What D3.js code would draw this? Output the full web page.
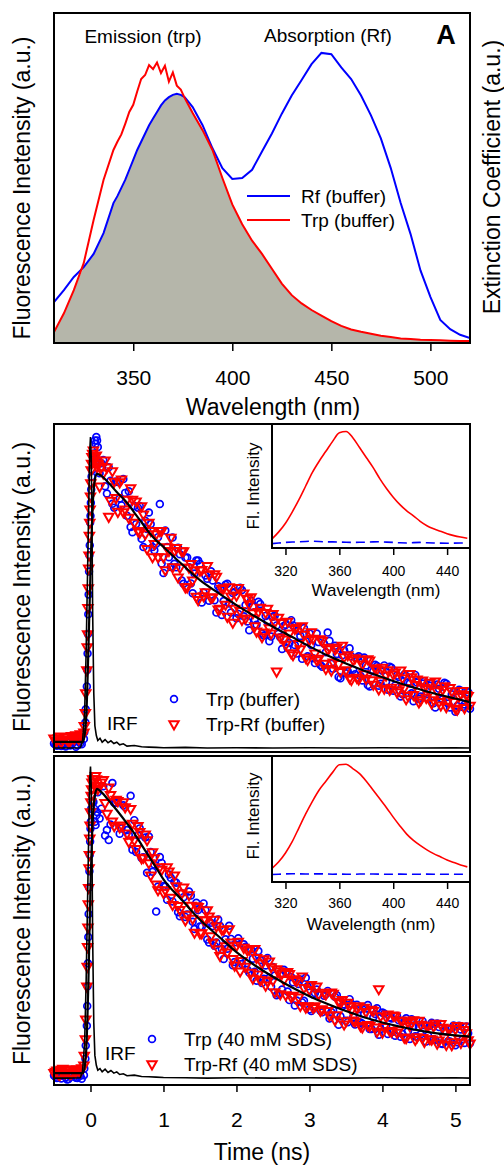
<!DOCTYPE html>
<html>
<head>
<meta charset="utf-8">
<script src="https://cdn.jsdelivr.net/npm/d3@7"></script>
<style>
  body { margin: 0; background: #fff; }
  svg { display: block; font-family: "Liberation Sans", Arial, sans-serif; }
</style>
</head>
<body>
<svg id="fig" width="504" height="1165"></svg>
<script>
// ── Data: panel A (steady-state spectra) ─────────────────────────────────────
const wlA = [
  310, 315, 320, 325, 330, 335, 340,
  342, 344, 346, 348, 350, 352, 354, 356, 358, 360, 362, 364, 366, 368, 370, 372, 374, 376, 378, 380,
  385, 390, 395, 400, 405, 410, 415, 420, 425, 430, 435, 440, 445, 450, 455, 460, 465, 470,
  475, 480, 485, 490, 495, 500, 505, 510, 515, 520
];
const rfAbs = [
  0.124, 0.160, 0.200, 0.230, 0.270, 0.333, 0.424,
  0.445, 0.470, 0.495, 0.525, 0.555, 0.585, 0.610, 0.635, 0.660, 0.680, 0.700, 0.720, 0.735, 0.745, 0.752, 0.755, 0.752, 0.745, 0.730, 0.715,
  0.660, 0.590, 0.530, 0.497, 0.500, 0.525, 0.580, 0.635, 0.695, 0.750, 0.797, 0.845, 0.879, 0.875, 0.835, 0.800, 0.750, 0.690,
  0.620, 0.530, 0.424, 0.330, 0.220, 0.140, 0.070, 0.042, 0.025, 0.015
];
const trpEm = [
  0.033, 0.090, 0.160, 0.242, 0.373, 0.494, 0.585,
  0.610, 0.632, 0.665, 0.700, 0.722, 0.762, 0.800, 0.812, 0.842, 0.830, 0.850, 0.818, 0.840, 0.792, 0.820, 0.780, 0.768, 0.742, 0.720, 0.697,
  0.645, 0.585, 0.500, 0.420, 0.360, 0.310, 0.270, 0.225, 0.180, 0.145, 0.120, 0.100, 0.083, 0.066, 0.052, 0.041, 0.034, 0.028,
  0.022, 0.018, 0.014, 0.012, 0.010, 0.009, 0.008, 0.007, 0.006, 0.006
];
const tickA = [350, 400, 450, 500];

// ── Data: insets (emission spectra) ──────────────────────────────────────────
const wlIn = [310, 315, 320, 325, 330, 335, 340, 345, 350, 355, 360, 365, 370, 375, 380,
              385, 390, 395, 400, 405, 410, 415, 420, 425, 430, 435, 440, 445, 450, 455];
const inB_trp = [0.073, 0.130, 0.200, 0.290, 0.390, 0.500, 0.610, 0.700, 0.780, 0.860, 0.930, 0.940, 0.890, 0.810, 0.730,
                 0.650, 0.560, 0.480, 0.410, 0.350, 0.300, 0.260, 0.215, 0.180, 0.155, 0.135, 0.115, 0.100, 0.088, 0.078];
const inB_rf  = [0.035, 0.040, 0.045, 0.048, 0.050, 0.053, 0.055, 0.052, 0.050, 0.049, 0.048, 0.046, 0.045, 0.046, 0.047,
                 0.049, 0.050, 0.047, 0.045, 0.042, 0.040, 0.043, 0.045, 0.042, 0.040, 0.039, 0.038, 0.039, 0.040, 0.040];
const inC_trp = [0.108, 0.160, 0.230, 0.320, 0.430, 0.540, 0.640, 0.730, 0.800, 0.870, 0.930, 0.935, 0.900, 0.860, 0.800,
                 0.730, 0.660, 0.590, 0.515, 0.445, 0.380, 0.330, 0.290, 0.255, 0.225, 0.200, 0.175, 0.155, 0.135, 0.120];
const inC_rf  = [0.060, 0.062, 0.064, 0.066, 0.065, 0.063, 0.064, 0.066, 0.064, 0.062, 0.063, 0.062, 0.061, 0.063, 0.064,
                 0.063, 0.062, 0.061, 0.062, 0.063, 0.062, 0.061, 0.062, 0.063, 0.062, 0.061, 0.062, 0.062, 0.061, 0.062];
const tickIn = [320, 360, 400, 440];

// ── Data: decays (panels B, C), two interleaved channel sets ─────────────────
const tData = [
  -0.48, -0.44, -0.40, -0.36, -0.32, -0.28, -0.24, -0.20, -0.16, -0.12,
  -0.09, -0.07, -0.05, -0.04, -0.03, -0.02, -0.01, 0.00, 0.01, 0.02, 0.04, 0.06, 0.08, 0.10,
  0.15, 0.20, 0.25, 0.30, 0.35, 0.40, 0.45, 0.50, 0.55, 0.60,
  0.65, 0.70, 0.75, 0.80, 0.85, 0.90, 0.95, 1.00, 1.05, 1.10,
  1.15, 1.20, 1.25, 1.30, 1.35, 1.40, 1.45, 1.50, 1.55, 1.60,
  1.65, 1.70, 1.75, 1.80, 1.85, 1.90, 1.95, 2.00, 2.05, 2.10,
  2.15, 2.20, 2.25, 2.30, 2.35, 2.40, 2.45, 2.50, 2.55, 2.60,
  2.65, 2.70, 2.75, 2.80, 2.85, 2.90, 2.95, 3.00, 3.05, 3.10,
  3.15, 3.20, 3.25, 3.30, 3.35, 3.40, 3.45, 3.50, 3.55, 3.60,
  3.65, 3.70, 3.75, 3.80, 3.85, 3.90, 3.95, 4.00, 4.05, 4.10,
  4.15, 4.20, 4.25, 4.30, 4.35, 4.40, 4.45, 4.50, 4.55, 4.60,
  4.65, 4.70, 4.75, 4.80, 4.85, 4.90, 4.95, 5.00, 5.05, 5.10,
  5.15, 5.20
];
const tData2 = [
  -0.50, -0.46, -0.42, -0.38, -0.34, -0.30, -0.26, -0.22, -0.18, -0.14,
  -0.085, -0.065, -0.045, -0.035, -0.025, -0.015, -0.005, 0.005, 0.015, 0.03, 0.05, 0.07, 0.09,
  0.125, 0.175, 0.225, 0.275, 0.325, 0.375, 0.425, 0.475, 0.525, 0.575,
  0.625, 0.675, 0.725, 0.775, 0.825, 0.875, 0.925, 0.975, 1.025, 1.075,
  1.125, 1.175, 1.225, 1.275, 1.325, 1.375, 1.425, 1.475, 1.525, 1.575,
  1.625, 1.675, 1.725, 1.775, 1.825, 1.875, 1.925, 1.975, 2.025, 2.075,
  2.125, 2.175, 2.225, 2.275, 2.325, 2.375, 2.425, 2.475, 2.525, 2.575,
  2.625, 2.675, 2.725, 2.775, 2.825, 2.875, 2.925, 2.975, 3.025, 3.075,
  3.125, 3.175, 3.225, 3.275, 3.325, 3.375, 3.425, 3.475, 3.525, 3.575,
  3.625, 3.675, 3.725, 3.775, 3.825, 3.875, 3.925, 3.975, 4.025, 4.075,
  4.125, 4.175, 4.225, 4.275, 4.325, 4.375, 4.425, 4.475, 4.525, 4.575,
  4.625, 4.675, 4.725, 4.775, 4.825, 4.875, 4.925, 4.975, 5.025, 5.075,
  5.125, 5.175
];

// panel B, Trp (buffer)
const trpBuf = [
  0.022, 0.030, 0.018, 0.026, 0.034, 0.020, 0.028, 0.016, 0.032, 0.024,
  0.040, 0.090, 0.200, 0.300, 0.420, 0.550, 0.630, 0.720, 0.800, 0.860, 0.900, 0.950, 0.960, 0.930,
  0.880, 0.810, 0.868, 0.757, 0.825, 0.773, 0.832, 0.720, 0.686, 0.750,
  0.745, 0.650, 0.705, 0.730, 0.625, 0.635, 0.756, 0.546, 0.625, 0.564,
  0.574, 0.623, 0.523, 0.593, 0.563, 0.484, 0.584, 0.574, 0.486, 0.528,
  0.551, 0.463, 0.505, 0.418, 0.510, 0.453, 0.485, 0.408, 0.501, 0.414,
  0.398, 0.461, 0.404, 0.458, 0.361, 0.415, 0.338, 0.412, 0.386, 0.350,
  0.384, 0.318, 0.402, 0.326, 0.370, 0.284, 0.338, 0.362, 0.286, 0.361,
  0.265, 0.330, 0.364, 0.269, 0.324, 0.229, 0.295, 0.240, 0.316, 0.251,
  0.287, 0.232, 0.288, 0.204, 0.250, 0.266, 0.202, 0.248, 0.214, 0.260,
  0.187, 0.233, 0.169, 0.236, 0.212, 0.179, 0.235, 0.162, 0.209, 0.176,
  0.202, 0.149, 0.206, 0.163, 0.211, 0.148, 0.176, 0.123, 0.190, 0.137,
  0.175, 0.132
];
const trpBuf2 = [
  0.026, 0.019, 0.031, 0.024, 0.017, 0.029, 0.023, 0.033, 0.021, 0.027,
  0.060, 0.130, 0.250, 0.360, 0.480, 0.600, 0.700, 0.760, 0.840, 0.880, 0.910, 0.940, 0.950,
  0.850, 0.890, 0.788, 0.827, 0.745, 0.823, 0.752, 0.790, 0.795, 0.670,
  0.695, 0.750, 0.625, 0.680, 0.695, 0.615, 0.655, 0.575, 0.675, 0.594,
  0.654, 0.563, 0.603, 0.513, 0.593, 0.514, 0.544, 0.584, 0.456, 0.538,
  0.461, 0.523, 0.425, 0.498, 0.460, 0.513, 0.425, 0.488, 0.421, 0.494,
  0.448, 0.371, 0.444, 0.388, 0.451, 0.355, 0.398, 0.352, 0.416, 0.360,
  0.314, 0.388, 0.332, 0.386, 0.300, 0.354, 0.378, 0.292, 0.326, 0.271,
  0.335, 0.260, 0.304, 0.339, 0.254, 0.299, 0.225, 0.310, 0.246, 0.291,
  0.237, 0.292, 0.218, 0.264, 0.200, 0.246, 0.262, 0.208, 0.264, 0.190,
  0.257, 0.203, 0.229, 0.176, 0.232, 0.209, 0.155, 0.212, 0.169, 0.216,
  0.162, 0.209, 0.136, 0.193, 0.161, 0.208, 0.136, 0.183, 0.140, 0.187,
  0.145, 0.182
];
// panel B, Trp-Rf (buffer)
const trpRfBuf = [
  0.036, 0.043, 0.030, 0.047, 0.038, 0.034, 0.044, 0.052, 0.040, 0.048,
  0.060, 0.120, 0.250, 0.360, 0.500, 0.600, 0.700, 0.780, 0.860, 0.900, 0.920, 0.890, 0.905, 0.880,
  0.870, 0.890, 0.718, 0.857, 0.775, 0.823, 0.732, 0.770, 0.805, 0.700,
  0.675, 0.750, 0.665, 0.700, 0.595, 0.665, 0.675, 0.595, 0.625, 0.654,
  0.614, 0.533, 0.613, 0.503, 0.563, 0.524, 0.474, 0.554, 0.476, 0.568,
  0.471, 0.543, 0.435, 0.498, 0.450, 0.503, 0.395, 0.478, 0.431, 0.484,
  0.468, 0.473, 0.384, 0.428, 0.351, 0.425, 0.378, 0.422, 0.246, 0.350,
  0.344, 0.398, 0.302, 0.376, 0.330, 0.384, 0.288, 0.342, 0.346, 0.281,
  0.345, 0.270, 0.314, 0.249, 0.314, 0.269, 0.325, 0.250, 0.226, 0.281,
  0.227, 0.282, 0.238, 0.284, 0.220, 0.256, 0.192, 0.258, 0.234, 0.190,
  0.237, 0.183, 0.249, 0.196, 0.172, 0.229, 0.205, 0.152, 0.219, 0.166,
  0.212, 0.159, 0.186, 0.143, 0.201, 0.158, 0.186, 0.133, 0.170, 0.187,
  0.175, 0.142
];
const trpRfBuf2 = [
  0.042, 0.035, 0.048, 0.039, 0.045, 0.033, 0.050, 0.041, 0.046, 0.055,
  0.080, 0.180, 0.320, 0.440, 0.560, 0.660, 0.740, 0.820, 0.880, 0.910, 0.900, 0.880, 0.870,
  0.810, 0.850, 0.868, 0.767, 0.825, 0.733, 0.832, 0.740, 0.715, 0.770,
  0.765, 0.670, 0.725, 0.620, 0.675, 0.635, 0.595, 0.675, 0.555, 0.614,
  0.564, 0.623, 0.563, 0.613, 0.503, 0.574, 0.554, 0.464, 0.556, 0.488,
  0.541, 0.473, 0.535, 0.438, 0.500, 0.413, 0.475, 0.438, 0.501, 0.404,
  0.408, 0.451, 0.424, 0.368, 0.441, 0.365, 0.438, 0.362, 0.396, 0.410,
  0.394, 0.328, 0.362, 0.296, 0.380, 0.314, 0.358, 0.282, 0.366, 0.301,
  0.285, 0.340, 0.254, 0.319, 0.274, 0.319, 0.245, 0.290, 0.296, 0.221,
  0.287, 0.222, 0.268, 0.224, 0.280, 0.206, 0.252, 0.218, 0.194, 0.250,
  0.197, 0.243, 0.189, 0.226, 0.162, 0.239, 0.175, 0.222, 0.159, 0.196,
  0.192, 0.149, 0.216, 0.153, 0.191, 0.138, 0.196, 0.153, 0.130, 0.177,
  0.135, 0.172
];
// panel C, Trp (40 mM SDS)
const trpSds = [
  0.025, 0.032, 0.020, 0.028, 0.017, 0.026, 0.031, 0.022, 0.029, 0.019,
  0.030, 0.080, 0.180, 0.300, 0.450, 0.600, 0.700, 0.780, 0.840, 0.880, 0.860, 0.800, 0.820, 0.890,
  0.840, 0.758, 0.745, 0.918, 0.858, 0.764, 0.850, 0.775, 0.879, 0.805,
  0.758, 0.690, 0.752, 0.755, 0.648, 0.527, 0.693, 0.605, 0.563, 0.630,
  0.618, 0.525, 0.583, 0.511, 0.588, 0.496, 0.554, 0.482, 0.552, 0.442,
  0.493, 0.423, 0.503, 0.413, 0.443, 0.484, 0.364, 0.434, 0.376, 0.428,
  0.350, 0.412, 0.344, 0.407, 0.310, 0.363, 0.326, 0.359, 0.273, 0.337,
  0.350, 0.284, 0.328, 0.242, 0.307, 0.251, 0.326, 0.230, 0.275, 0.290,
  0.226, 0.271, 0.286, 0.222, 0.268, 0.183, 0.239, 0.195, 0.261, 0.207,
  0.244, 0.190, 0.216, 0.243, 0.170, 0.216, 0.153, 0.220, 0.177, 0.205,
  0.162, 0.210, 0.147, 0.195, 0.163, 0.200, 0.148, 0.176, 0.194, 0.132,
  0.180, 0.139, 0.187, 0.126, 0.165, 0.133, 0.172, 0.121, 0.180, 0.139,
  0.178, 0.127
];
const trpSds2 = [
  0.029, 0.021, 0.027, 0.033, 0.023, 0.018, 0.030, 0.025, 0.021, 0.028,
  0.050, 0.120, 0.240, 0.370, 0.520, 0.650, 0.740, 0.800, 0.830, 0.860, 0.840, 0.790, 0.830,
  0.810, 0.908, 0.775, 0.792, 0.858, 0.864, 0.780, 0.845, 0.760, 0.715,
  0.708, 0.780, 0.692, 0.645, 0.708, 0.670, 0.603, 0.675, 0.603, 0.640,
  0.558, 0.615, 0.513, 0.571, 0.518, 0.576, 0.474, 0.532, 0.482, 0.532,
  0.433, 0.483, 0.433, 0.483, 0.383, 0.414, 0.444, 0.374, 0.446, 0.368,
  0.420, 0.342, 0.384, 0.317, 0.380, 0.323, 0.386, 0.299, 0.333, 0.277,
  0.290, 0.344, 0.258, 0.312, 0.257, 0.321, 0.256, 0.300, 0.225, 0.280,
  0.276, 0.221, 0.276, 0.202, 0.228, 0.273, 0.209, 0.245, 0.191, 0.247,
  0.184, 0.230, 0.186, 0.233, 0.170, 0.206, 0.233, 0.170, 0.217, 0.155,
  0.202, 0.150, 0.197, 0.155, 0.203, 0.140, 0.178, 0.146, 0.154, 0.182,
  0.150, 0.189, 0.137, 0.176, 0.125, 0.163, 0.132, 0.181, 0.130, 0.169,
  0.128, 0.157
];
// panel C, Trp-Rf (40 mM SDS)
const trpRfSds = [
  0.041, 0.034, 0.047, 0.037, 0.044, 0.035, 0.049, 0.040, 0.045, 0.052,
  0.060, 0.140, 0.300, 0.420, 0.550, 0.660, 0.750, 0.830, 0.880, 0.920, 0.930, 0.910, 0.930, 0.900,
  0.920, 0.858, 0.905, 0.802, 0.868, 0.784, 0.860, 0.765, 0.840, 0.745,
  0.788, 0.690, 0.762, 0.675, 0.708, 0.610, 0.663, 0.585, 0.663, 0.570,
  0.638, 0.545, 0.583, 0.501, 0.578, 0.506, 0.544, 0.462, 0.502, 0.532,
  0.453, 0.503, 0.413, 0.473, 0.423, 0.474, 0.384, 0.424, 0.346, 0.418,
  0.410, 0.342, 0.414, 0.337, 0.370, 0.303, 0.376, 0.319, 0.353, 0.277,
  0.320, 0.344, 0.268, 0.322, 0.267, 0.331, 0.236, 0.290, 0.235, 0.300,
  0.226, 0.281, 0.226, 0.282, 0.198, 0.253, 0.259, 0.195, 0.241, 0.197,
  0.234, 0.180, 0.236, 0.183, 0.230, 0.176, 0.292, 0.160, 0.207, 0.165,
  0.212, 0.160, 0.197, 0.145, 0.193, 0.190, 0.138, 0.196, 0.144, 0.182,
  0.140, 0.179, 0.127, 0.186, 0.145, 0.173, 0.122, 0.171, 0.140, 0.179,
  0.158, 0.127
];
const trpRfSds2 = [
  0.037, 0.045, 0.032, 0.050, 0.039, 0.046, 0.036, 0.043, 0.048, 0.041,
  0.090, 0.200, 0.360, 0.480, 0.600, 0.700, 0.790, 0.860, 0.900, 0.930, 0.920, 0.940, 0.910,
  0.910, 0.928, 0.825, 0.882, 0.788, 0.864, 0.790, 0.845, 0.740, 0.795,
  0.718, 0.770, 0.692, 0.745, 0.638, 0.690, 0.593, 0.655, 0.593, 0.650,
  0.548, 0.605, 0.533, 0.601, 0.518, 0.546, 0.464, 0.542, 0.462, 0.502,
  0.513, 0.433, 0.483, 0.393, 0.473, 0.404, 0.434, 0.364, 0.436, 0.378,
  0.360, 0.412, 0.324, 0.387, 0.320, 0.383, 0.316, 0.359, 0.283, 0.347,
  0.340, 0.274, 0.338, 0.272, 0.317, 0.241, 0.296, 0.240, 0.305, 0.240,
  0.276, 0.231, 0.276, 0.212, 0.278, 0.213, 0.249, 0.185, 0.251, 0.227,
  0.194, 0.240, 0.176, 0.223, 0.180, 0.226, 0.163, 0.210, 0.177, 0.215,
  0.162, 0.210, 0.167, 0.195, 0.143, 0.180, 0.198, 0.146, 0.184, 0.132,
  0.180, 0.139, 0.187, 0.136, 0.175, 0.123, 0.172, 0.131, 0.180, 0.129,
  0.168, 0.137
];

const fitT = [-0.5, -0.1, -0.06, -0.03, 0, 0.03, 0.06, 0.09, 0.15, 0.25, 0.35, 0.5, 0.6, 0.7, 0.8, 0.9, 1.0,
              1.25, 1.5, 1.75, 2.0, 2.25, 2.5, 2.75, 3.0, 3.25, 3.5, 3.75, 4.0, 4.25, 4.5, 4.75, 5.0, 5.2];
const fitBuf = [0.031, 0.031, 0.10, 0.30, 0.55, 0.75, 0.83, 0.848, 0.842, 0.82, 0.795, 0.76, 0.73, 0.70, 0.67, 0.645, 0.625,
                0.573, 0.524, 0.485, 0.448, 0.414, 0.382, 0.352, 0.322, 0.294, 0.27, 0.248, 0.228, 0.209, 0.192, 0.176, 0.163, 0.152];
const fitSds = [0.036, 0.036, 0.10, 0.30, 0.60, 0.80, 0.88, 0.90, 0.89, 0.865, 0.838, 0.795, 0.765, 0.73, 0.695, 0.66, 0.625,
                0.563, 0.502, 0.453, 0.404, 0.364, 0.329, 0.298, 0.27, 0.246, 0.225, 0.206, 0.19, 0.177, 0.166, 0.157, 0.151, 0.147];
const irfT = [-0.5, -0.3, -0.14, -0.11, -0.08, -0.06, -0.04, -0.02, -0.01, 0, 0.01, 0.02, 0.03, 0.045, 0.06, 0.08, 0.1,
              0.13, 0.16, 0.2, 0.24, 0.28, 0.32, 0.36, 0.4, 0.45, 0.5, 0.6, 0.7, 0.8, 0.9, 1.0, 1.3, 1.6, 2.0, 2.5,
              3.0, 3.5, 4.0, 4.5, 5.0, 5.2];
const irfBuf = [0.012, 0.012, 0.013, 0.03, 0.12, 0.30, 0.55, 0.80, 0.92, 0.96, 0.90, 0.70, 0.42, 0.18, 0.08, 0.05, 0.035,
                0.042, 0.03, 0.038, 0.028, 0.034, 0.026, 0.03, 0.022, 0.025, 0.018, 0.02, 0.016, 0.015, 0.014, 0.013,
                0.014, 0.012, 0.013, 0.012, 0.013, 0.012, 0.013, 0.012, 0.013, 0.012];
const irfSds = [0.021, 0.021, 0.022, 0.04, 0.13, 0.31, 0.56, 0.82, 0.93, 0.968, 0.91, 0.72, 0.44, 0.19, 0.09, 0.06, 0.045,
                0.05, 0.04, 0.048, 0.038, 0.044, 0.036, 0.04, 0.032, 0.034, 0.028, 0.03, 0.026, 0.025, 0.024, 0.023,
                0.022, 0.021, 0.022, 0.021, 0.022, 0.021, 0.022, 0.021, 0.022, 0.021];
const tickT = [0, 1, 2, 3, 4, 5];

// ── Setup ────────────────────────────────────────────────────────────────────
const BLUE = '#0000ff', RED = '#ff0000', GREY = '#b5b6aa';
const FONT = '"Liberation Sans", Arial, sans-serif';
const svg = d3.select('#fig');
const X0 = 54, X1 = 470;

const zip = (xs, ys) => xs.map((x, i) => [x, ys[i]]);

function text(str, x, y, size, opts = {}) {
  return svg.append('text')
    .attr('x', x).attr('y', y)
    .attr('font-size', size)
    .attr('text-anchor', opts.anchor || 'start')
    .attr('font-weight', opts.bold ? 'bold' : null)
    .text(str);
}
function vtext(str, x, y, size) {
  svg.append('text')
    .attr('transform', `translate(${x},${y}) rotate(-90)`)
    .attr('font-size', size)
    .attr('text-anchor', 'middle')
    .text(str);
}
function frame(x0, y0, x1, y1) {
  svg.append('rect')
    .attr('x', x0).attr('y', y0)
    .attr('width', x1 - x0).attr('height', y1 - y0)
    .attr('fill', 'none').attr('stroke', '#000').attr('stroke-width', 2);
}
function bottomAxis(scale, y, ticks, size, pad, fontSize) {
  const g = svg.append('g').attr('transform', `translate(0,${y})`)
    .call(d3.axisBottom(scale).tickValues(ticks).tickSize(size).tickPadding(pad).tickFormat(d3.format('d')));
  g.select('.domain').remove();
  g.attr('font-family', FONT).attr('font-size', fontSize);
  g.selectAll('line').attr('stroke-width', 1.5);
  g.selectAll('text').attr('fill', '#000');
}
function clip(id, x0, y0, x1, y1) {
  svg.append('clipPath').attr('id', id)
    .append('rect').attr('x', x0).attr('y', y0).attr('width', x1 - x0).attr('height', y1 - y0);
  return `url(#${id})`;
}

// ── Panel A ──────────────────────────────────────────────────────────────────
const xA = d3.scaleLinear().domain([310, 520]).range([X0, X1]);
const yA = d3.scaleLinear().domain([0, 1]).range([343, 13]);
const clipA = clip('clipA', X0, 13, X1, 343);

// spectral overlap = the lower of the two curves
const rowsA = wlA.map((w, i) => ({ wl: w, rf: rfAbs[i], trp: trpEm[i] }));
svg.append('path')
  .datum(rowsA)
  .attr('clip-path', clipA)
  .attr('fill', GREY)
  .attr('d', d3.area()
    .x(d => xA(d.wl))
    .y0(yA(0))
    .y1(d => yA(Math.min(d.rf, d.trp))));

const lineA = d3.line().x(d => xA(d[0])).y(d => yA(d[1]));
svg.append('path').datum(zip(wlA, rfAbs))
  .attr('clip-path', clipA)
  .attr('fill', 'none').attr('stroke', BLUE).attr('stroke-width', 2)
  .attr('d', lineA);
svg.append('path').datum(zip(wlA, trpEm))
  .attr('clip-path', clipA)
  .attr('fill', 'none').attr('stroke', RED).attr('stroke-width', 2)
  .attr('d', lineA);

frame(X0, 13, X1, 343);
bottomAxis(xA, 343, tickA, 8, 19, 21);

text('Emission (trp)', 143, 43, 19, { anchor: 'middle' });
text('Absorption (Rf)', 328, 42, 19, { anchor: 'middle' });
text('A', 446, 44, 27, { anchor: 'middle', bold: true });

[[BLUE, 'Rf (buffer)', 196], [RED, 'Trp (buffer)', 220]].forEach(([c, lab, y]) => {
  svg.append('line').attr('x1', 247).attr('x2', 290).attr('y1', y).attr('y2', y)
    .attr('stroke', c).attr('stroke-width', 2);
  text(lab, 301, y + 7, 19);
});

vtext('Fluorescence Inetensity (a.u.)', 30, 188, 23);
vtext('Extinction Coefficient (a.u.)', 500, 177, 23);
text('Wavelength (nm)', 273, 415, 23, { anchor: 'middle' });

// ── Panels B and C ───────────────────────────────────────────────────────────
const xT = d3.scaleLinear().domain([-0.5, 5.2]).range([X0, X1]);
const triangle = d3.symbol().type(d3.symbolTriangle).size(38);

function decayPanel(cfg) {
  const y = d3.scaleLinear().domain([0, 1]).range([cfg.bottom, cfg.top]);
  const cl = clip(cfg.id, X0, cfg.top, X1, cfg.bottom);

  // Trp circles
  svg.append('g').selectAll('circle')
    .data(zip(tData, cfg.trp).concat(zip(tData2, cfg.trp2)))
    .join('circle')
    .attr('cx', d => xT(d[0])).attr('cy', d => y(d[1]))
    .attr('r', 3.4)
    .attr('fill', 'none').attr('stroke', BLUE).attr('stroke-width', 1.7);

  // Trp-Rf triangles
  svg.append('g').selectAll('path')
    .data(zip(tData, cfg.trpRf).concat(zip(tData2, cfg.trpRf2)))
    .join('path')
    .attr('d', triangle)
    .attr('transform', d => `translate(${xT(d[0])},${y(d[1])}) rotate(180)`)
    .attr('fill', 'none').attr('stroke', RED).attr('stroke-width', 2);

  // IRF and fit
  svg.append('path').datum(zip(irfT, cfg.irf))
    .attr('clip-path', cl)
    .attr('fill', 'none').attr('stroke', '#000').attr('stroke-width', 1.6)
    .attr('d', d3.line().x(d => xT(d[0])).y(d => y(d[1])));
  svg.append('path').datum(zip(fitT, cfg.fit))
    .attr('clip-path', cl)
    .attr('fill', 'none').attr('stroke', '#000').attr('stroke-width', 2.2)
    .attr('d', d3.line().curve(d3.curveMonotoneX).x(d => xT(d[0])).y(d => y(d[1])));

  frame(X0, cfg.top, X1, cfg.bottom);

  // legend
  svg.append('circle').attr('cx', cfg.legX).attr('cy', cfg.legY)
    .attr('r', 3.4).attr('fill', 'none').attr('stroke', BLUE).attr('stroke-width', 1.7);
  svg.append('path').attr('d', triangle)
    .attr('transform', `translate(${cfg.legX},${cfg.legY + 25}) rotate(180)`)
    .attr('fill', 'none').attr('stroke', RED).attr('stroke-width', 2);
  text(cfg.labTrp, cfg.legX + 32, cfg.legY + 7, 19);
  text(cfg.labTrpRf, cfg.legX + 32, cfg.legY + 32, 19);
  text('IRF', cfg.irfX, cfg.irfY, 19);
  text(cfg.letter, 445, cfg.letterY, 27, { anchor: 'middle', bold: true });
  vtext('Fluorescence Intensity (a.u.)', 30, cfg.labelY, 23);

  // inset emission spectra
  const ix = d3.scaleLinear().domain([310, 457]).range([272, X1]);
  const iy = d3.scaleLinear().domain([0, 1]).range([cfg.inBottom, cfg.top]);
  const icl = clip(cfg.id + 'in', 272, cfg.top, X1, cfg.inBottom);
  svg.append('rect').attr('x', 272).attr('y', cfg.top)
    .attr('width', X1 - 272).attr('height', cfg.inBottom - cfg.top).attr('fill', '#fff');
  const iline = d3.line().x(d => ix(d[0])).y(d => iy(d[1]));
  svg.append('path').datum(zip(wlIn, cfg.inRf))
    .attr('clip-path', icl)
    .attr('fill', 'none').attr('stroke', BLUE).attr('stroke-width', 1.6)
    .attr('stroke-dasharray', '9,5')
    .attr('d', iline);
  svg.append('path').datum(zip(wlIn, cfg.inTrp))
    .attr('clip-path', icl)
    .attr('fill', 'none').attr('stroke', RED).attr('stroke-width', 1.6)
    .attr('d', iline.curve(d3.curveMonotoneX));
  frame(272, cfg.top, X1, cfg.inBottom);
  bottomAxis(ix, cfg.inBottom, tickIn, 7, cfg.inPad, 14);
  vtext('Fl. Intensity', 259, cfg.flY, 17);
  text('Wavelength (nm)', cfg.inLabX, cfg.inLabY, 17, { anchor: 'middle' });
}

decayPanel({
  id: 'clipB', top: 424, bottom: 752,
  trp: trpBuf, trp2: trpBuf2, trpRf: trpRfBuf, trpRf2: trpRfBuf2, fit: fitBuf, irf: irfBuf,
  legX: 174, legY: 699, labTrp: 'Trp (buffer)', labTrpRf: 'Trp-Rf (buffer)',
  irfX: 107, irfY: 730, letter: 'B', letterY: 457, labelY: 587,
  inBottom: 548, inTrp: inB_trp, inRf: inB_rf, inPad: 11,
  flY: 486, inLabX: 376, inLabY: 596
});

decayPanel({
  id: 'clipC', top: 756, bottom: 1085,
  trp: trpSds, trp2: trpSds2, trpRf: trpRfSds, trpRf2: trpRfSds2, fit: fitSds, irf: irfSds,
  legX: 152, legY: 1039, labTrp: 'Trp (40 mM SDS)', labTrpRf: 'Trp-Rf (40 mM SDS)',
  irfX: 105, irfY: 1060, letter: 'C', letterY: 785, labelY: 920,
  inBottom: 882, inTrp: inC_trp, inRf: inC_rf, inPad: 9,
  flY: 816, inLabX: 371, inLabY: 930
});

bottomAxis(xT, 1085, tickT, 7, 20, 21);
text('Time (ns)', 262, 1160, 23, { anchor: 'middle' });
</script>
</body>
</html>
